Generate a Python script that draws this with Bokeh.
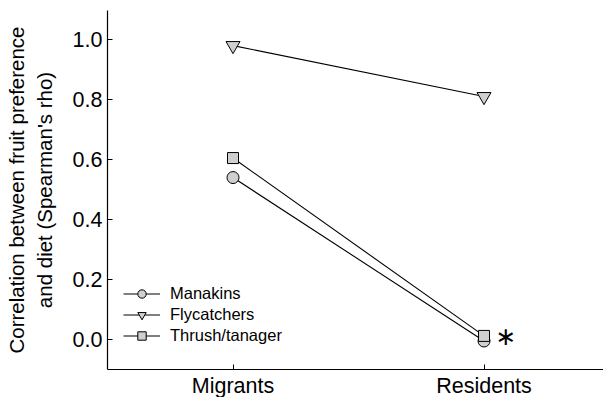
from bokeh.plotting import figure
from bokeh.models import Range1d, FixedTicker, Legend, LegendItem
from bokeh.core.properties import value
from bokeh.embed import file_html
from bokeh.resources import INLINE

groups = ["Migrants", "Residents"]
group_pos = [1, 2]
manakins = [0.54, -0.005]
flycatchers = [0.98, 0.81]
thrush_tanager = [0.605, 0.012]
y_ticks = [0.0, 0.2, 0.4, 0.6, 0.8, 1.0]
series_names = ["Manakins", "Flycatchers", "Thrush/tanager"]
signif_label = "∗"

FONT = "Liberation Sans"

p = figure(frame_width=496, frame_height=359, output_backend="svg", toolbar_location=None,
           x_range=Range1d(0.5, 2.476), y_range=Range1d(-0.1, 1.097),
           min_border_left=107, min_border_right=0, min_border_top=10, min_border_bottom=28)
p.outline_line_color = None
p.xgrid.visible = False
p.ygrid.visible = False
p.background_fill_color = "white"
p.border_fill_color = "white"

fill = "#cfcfcf"
series = [manakins, flycatchers, thrush_tanager]
markers = ["circle", "inverted_triangle", "square"]
sizes = [12, 14, 11]
items = []
for name, vals, mk, sz in zip(series_names, series, markers, sizes):
    l = p.line(group_pos, vals, line_color="black", line_width=1.1)
    s = p.scatter(group_pos, vals, marker=mk, size=sz, fill_color=fill, line_color="black", line_width=1)
    items.append(LegendItem(label=name, renderers=[l, s]))

p.text(x=[2], y=[0.0], text=[signif_label], x_offset=22, y_offset=-3,
       text_font=value("DejaVu Sans"), text_font_size="25px", text_color="black",
       text_align="center", text_baseline="middle")

legend = Legend(items=items, location=(16, 23), orientation="vertical")
legend.border_line_color = None
legend.background_fill_alpha = 0
legend.padding = 0
legend.margin = 0
legend.spacing = 0
legend.glyph_width = 37
legend.glyph_height = 21
legend.label_standoff = 10
legend.label_text_font = FONT
legend.label_text_font_size = "16.5px"
legend.label_text_color = "black"
legend.label_height = 21
p.add_layout(legend, "center")

for ax in (p.xaxis[0], p.yaxis[0]):
    ax.axis_line_color = "black"
    ax.axis_line_width = 1.2
    ax.major_tick_line_color = "black"
    ax.major_tick_in = 5
    ax.major_tick_out = 0
    ax.minor_tick_line_color = None
    ax.major_label_text_font = FONT
    ax.major_label_text_color = "black"

p.xaxis.ticker = FixedTicker(ticks=group_pos)
p.xaxis.major_label_overrides = {1: groups[0], 2: groups[1]}
p.xaxis.major_label_text_font_size = "21.5px"
p.xaxis.major_label_standoff = 4

p.yaxis.ticker = FixedTicker(ticks=y_ticks)
p.yaxis.major_label_overrides = {t: f"{t:.1f}" for t in y_ticks}
p.yaxis.major_label_text_font_size = "21.5px"
p.yaxis.major_label_standoff = 5
p.yaxis.axis_label = "Correlation between fruit preference\nand diet (Spearman's rho)"
p.yaxis.axis_label_text_font = FONT
p.yaxis.axis_label_text_font_style = "normal"
p.yaxis.axis_label_text_font_size = "20.5px"
p.yaxis.axis_label_text_color = "black"
p.yaxis.axis_label_standoff = 14

open("out.html", "w").write(file_html(p, INLINE))
